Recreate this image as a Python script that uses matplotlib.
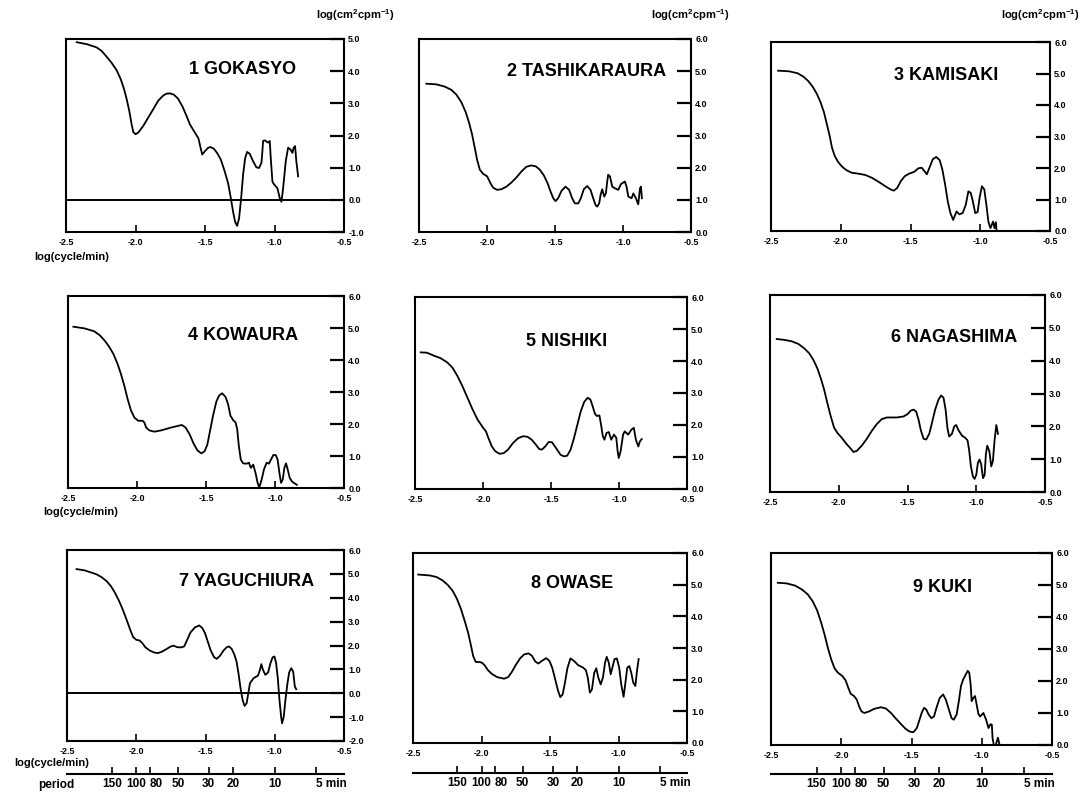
import numpy as np
import matplotlib
matplotlib.use('Agg')
import matplotlib.pyplot as plt

plt.rcParams['font.family'] = ['Liberation Sans', 'DejaVu Sans']
plt.rcParams['font.weight'] = 'bold'
plt.rcParams['mathtext.fontset'] = 'custom'
plt.rcParams['mathtext.rm'] = 'Liberation Sans:bold'
plt.rcParams['mathtext.bf'] = 'Liberation Sans:bold'
plt.rcParams['mathtext.it'] = 'Liberation Sans:bold'
plt.rcParams['mathtext.default'] = 'rm'

# ---------------- data ----------------
stations = ['1 GOKASYO', '2 TASHIKARAURA', '3 KAMISAKI', '4 KOWAURA', '5 NISHIKI',
            '6 NAGASHIMA', '7 YAGUCHIURA', '8 OWASE', '9 KUKI']
ylims = [(-1, 5), (0, 6), (0, 6), (0, 6), (0, 6), (0, 6), (-2, 6), (0, 6), (0, 6)]
xticks = [-2.5, -2.0, -1.5, -1.0, -0.5]
periods = [150, 100, 80, 50, 30, 20, 10, 5]
period_labels = ['150', '100', '80', '50', '30', '20', '10', '5 min']

x1 = [-2.423, -2.351, -2.280, -2.244, -2.208, -2.172, -2.136, -2.107, -2.083, -2.064, -2.045,
      -2.028, -2.016, -2.0, -1.980, -1.944, -1.908, -1.872, -1.837, -1.801, -1.777, -1.753,
      -1.724, -1.693, -1.662, -1.633, -1.609, -1.573, -1.547, -1.532, -1.520, -1.501, -1.477,
      -1.460, -1.437, -1.413, -1.386, -1.358, -1.334, -1.314, -1.298, -1.283, -1.269, -1.255,
      -1.240, -1.226, -1.211, -1.197, -1.178, -1.154, -1.130, -1.111, -1.094, -1.087, -1.082,
      -1.070, -1.046, -1.034, -1.027, -1.015, -1.005, -0.979, -0.962, -0.950, -0.938, -0.919,
      -0.902, -0.886, -0.871, -0.862, -0.852, -0.843, -0.830]
y1 = [4.90, 4.84, 4.74, 4.63, 4.45, 4.26, 4.03, 3.76, 3.45, 3.14, 2.77,
      2.35, 2.11, 2.04, 2.09, 2.30, 2.56, 2.82, 3.08, 3.24, 3.30, 3.31,
      3.27, 3.14, 2.90, 2.61, 2.35, 2.09, 1.91, 1.62, 1.41, 1.51, 1.62,
      1.64, 1.59, 1.46, 1.25, 0.88, 0.52, 0.05, -0.37, -0.69, -0.81, -0.58,
      0.05, 0.78, 1.30, 1.49, 1.43, 1.20, 1.01, 0.99, 1.15, 1.51, 1.83,
      1.85, 1.78, 1.83, 1.30, 0.57, 0.49, 0.36, 0.05, -0.06, 0.36, 1.20,
      1.62, 1.57, 1.46, 1.62, 1.67, 1.20, 0.73]

x2 = [-2.446, -2.372, -2.311, -2.262, -2.225, -2.188, -2.156, -2.132, -2.110, -2.090, -2.073,
      -2.053, -2.029, -1.999, -1.975, -1.955, -1.926, -1.894, -1.857, -1.820, -1.783, -1.747,
      -1.710, -1.673, -1.641, -1.612, -1.582, -1.555, -1.533, -1.513, -1.496, -1.477, -1.452,
      -1.423, -1.396, -1.374, -1.354, -1.329, -1.310, -1.288, -1.263, -1.239, -1.219, -1.202,
      -1.190, -1.175, -1.165, -1.153, -1.138, -1.126, -1.116, -1.109, -1.096, -1.079, -1.060,
      -1.035, -1.015, -0.986, -0.974, -0.961, -0.937, -0.924, -0.905, -0.888, -0.875, -0.868,
      -0.861]
y2 = [4.61, 4.59, 4.52, 4.42, 4.27, 4.03, 3.72, 3.40, 3.04, 2.62, 2.25,
      1.94, 1.81, 1.73, 1.52, 1.38, 1.31, 1.33, 1.41, 1.54, 1.70, 1.88,
      2.03, 2.07, 2.04, 1.94, 1.76, 1.52, 1.26, 1.05, 0.96, 1.05, 1.28,
      1.41, 1.31, 1.05, 0.89, 0.89, 1.05, 1.33, 1.43, 1.31, 1.05, 0.84,
      0.79, 0.89, 1.15, 1.33, 1.10, 1.20, 1.57, 1.78, 1.73, 1.41, 1.36,
      1.31, 1.49, 1.57, 1.41, 1.10, 1.05, 1.20, 1.05, 0.86, 1.36, 1.41,
      1.05]

x3 = [-2.449, -2.371, -2.311, -2.267, -2.233, -2.201, -2.172, -2.146, -2.121, -2.100, -2.080,
      -2.063, -2.044, -2.019, -1.990, -1.959, -1.922, -1.874, -1.825, -1.777, -1.728, -1.680,
      -1.643, -1.619, -1.595, -1.570, -1.541, -1.510, -1.473, -1.444, -1.420, -1.400, -1.383,
      -1.364, -1.340, -1.316, -1.291, -1.272, -1.252, -1.233, -1.214, -1.194, -1.180, -1.170,
      -1.150, -1.126, -1.104, -1.085, -1.068, -1.053, -1.036, -1.019, -1.005, -0.988, -0.971,
      -0.956, -0.942, -0.927, -0.908, -0.898, -0.888, -0.883]
y3 = [5.09, 5.07, 5.01, 4.90, 4.76, 4.58, 4.36, 4.10, 3.78, 3.40, 3.03,
      2.65, 2.39, 2.19, 2.04, 1.93, 1.85, 1.82, 1.78, 1.69, 1.56, 1.42,
      1.32, 1.28, 1.37, 1.58, 1.74, 1.82, 1.88, 1.99, 2.01, 1.90, 1.80,
      2.01, 2.28, 2.35, 2.25, 1.96, 1.48, 0.94, 0.57, 0.35, 0.51, 0.62,
      0.53, 0.57, 0.83, 1.26, 1.21, 0.94, 0.57, 0.60, 1.05, 1.42, 1.32,
      0.83, 0.30, 0.09, 0.30, 0.09, 0.28, 0.03]

x4 = [-2.461, -2.383, -2.311, -2.269, -2.233, -2.201, -2.170, -2.141, -2.117, -2.092, -2.068,
      -2.044, -2.019, -1.990, -1.959, -1.947, -1.934, -1.910, -1.874, -1.825, -1.752, -1.704,
      -1.675, -1.648, -1.619, -1.590, -1.563, -1.534, -1.510, -1.490, -1.471, -1.449, -1.425,
      -1.405, -1.383, -1.359, -1.340, -1.323, -1.303, -1.286, -1.274, -1.262, -1.248, -1.231,
      -1.206, -1.189, -1.175, -1.158, -1.141, -1.126, -1.114, -1.097, -1.080, -1.061, -1.044,
      -1.029, -1.012, -0.995, -0.981, -0.968, -0.956, -0.944, -0.932, -0.920, -0.908, -0.893,
      -0.874, -0.842]
y4 = [5.04, 4.99, 4.90, 4.77, 4.60, 4.41, 4.18, 3.88, 3.57, 3.20, 2.78,
      2.43, 2.20, 2.10, 2.10, 2.05, 1.89, 1.80, 1.76, 1.80, 1.89, 1.94,
      1.97, 1.89, 1.68, 1.39, 1.18, 1.08, 1.15, 1.36, 1.78, 2.26, 2.70,
      2.89, 2.96, 2.85, 2.62, 2.26, 2.12, 2.05, 1.84, 1.31, 0.89, 0.77,
      0.76, 0.79, 0.63, 0.73, 0.47, 0.16, 0.02, 0.26, 0.58, 0.79, 0.76,
      0.89, 1.03, 1.03, 0.89, 0.47, 0.16, 0.26, 0.63, 0.77, 0.58, 0.31,
      0.19, 0.10]

x5 = [-2.458, -2.413, -2.363, -2.313, -2.264, -2.226, -2.189, -2.152, -2.114, -2.077, -2.040,
      -2.002, -1.978, -1.960, -1.935, -1.910, -1.878, -1.848, -1.816, -1.779, -1.741, -1.704,
      -1.672, -1.642, -1.612, -1.587, -1.567, -1.542, -1.517, -1.493, -1.463, -1.430, -1.405,
      -1.381, -1.356, -1.331, -1.306, -1.281, -1.256, -1.231, -1.211, -1.194, -1.177, -1.162,
      -1.144, -1.132, -1.119, -1.107, -1.092, -1.075, -1.057, -1.037, -1.020, -1.010, -1.002,
      -0.988, -0.970, -0.958, -0.933, -0.908, -0.891, -0.876, -0.858, -0.846, -0.833]
y5 = [4.27, 4.26, 4.17, 4.09, 3.96, 3.80, 3.54, 3.22, 2.85, 2.49, 2.17,
      1.93, 1.80, 1.59, 1.33, 1.18, 1.10, 1.12, 1.23, 1.44, 1.59, 1.65,
      1.63, 1.54, 1.39, 1.25, 1.23, 1.33, 1.47, 1.46, 1.28, 1.07, 1.02,
      1.04, 1.23, 1.59, 2.01, 2.43, 2.72, 2.85, 2.80, 2.59, 2.35, 2.28,
      2.30, 2.01, 1.65, 1.54, 1.75, 1.78, 1.54, 1.70, 1.60, 1.18, 0.97,
      1.18, 1.70, 1.80, 1.70, 1.86, 1.91, 1.54, 1.33, 1.49, 1.56]

x6 = [-2.451, -2.391, -2.342, -2.294, -2.252, -2.216, -2.184, -2.155, -2.129, -2.107, -2.083,
      -2.058, -2.034, -2.010, -1.978, -1.947, -1.917, -1.893, -1.869, -1.833, -1.796, -1.760,
      -1.723, -1.687, -1.650, -1.578, -1.529, -1.500, -1.476, -1.456, -1.437, -1.420, -1.403,
      -1.383, -1.364, -1.342, -1.323, -1.299, -1.274, -1.255, -1.238, -1.223, -1.209, -1.197,
      -1.177, -1.160, -1.146, -1.129, -1.104, -1.080, -1.063, -1.051, -1.039, -1.024, -1.012,
      -1.000, -0.988, -0.976, -0.964, -0.951, -0.939, -0.930, -0.920, -0.905, -0.891, -0.879,
      -0.867, -0.854, -0.842]
y6 = [4.66, 4.63, 4.59, 4.51, 4.38, 4.23, 4.02, 3.76, 3.44, 3.13, 2.71,
      2.30, 1.96, 1.80, 1.65, 1.48, 1.34, 1.22, 1.25, 1.41, 1.62, 1.86,
      2.07, 2.22, 2.27, 2.27, 2.30, 2.37, 2.48, 2.51, 2.45, 2.21, 1.88,
      1.62, 1.60, 1.77, 2.09, 2.51, 2.82, 2.94, 2.87, 2.51, 1.93, 1.69,
      1.77, 2.00, 2.04, 1.88, 1.72, 1.65, 1.57, 1.25, 0.78, 0.47, 0.40,
      0.52, 0.89, 0.99, 0.84, 0.42, 0.52, 1.15, 1.41, 1.25, 0.78, 0.94,
      1.57, 2.04, 1.77]

x7 = [-2.431, -2.375, -2.327, -2.286, -2.247, -2.213, -2.182, -2.153, -2.126, -2.102, -2.080,
      -2.061, -2.041, -2.022, -2.000, -1.976, -1.956, -1.935, -1.903, -1.872, -1.847, -1.818,
      -1.782, -1.751, -1.729, -1.705, -1.678, -1.654, -1.632, -1.608, -1.576, -1.545, -1.523,
      -1.504, -1.484, -1.462, -1.438, -1.419, -1.395, -1.370, -1.346, -1.329, -1.310, -1.291,
      -1.276, -1.262, -1.247, -1.232, -1.218, -1.203, -1.191, -1.179, -1.153, -1.121, -1.107,
      -1.097, -1.085, -1.068, -1.048, -1.031, -1.015, -1.002, -0.990, -0.978, -0.966, -0.954,
      -0.947, -0.935, -0.923, -0.908, -0.896, -0.881, -0.867, -0.855, -0.845]
y7 = [5.20, 5.15, 5.06, 4.98, 4.85, 4.69, 4.48, 4.20, 3.89, 3.57, 3.24,
      2.94, 2.62, 2.35, 2.24, 2.21, 2.10, 1.93, 1.79, 1.71, 1.68, 1.73,
      1.85, 1.96, 1.99, 1.93, 1.92, 1.96, 2.24, 2.55, 2.76, 2.84, 2.73,
      2.52, 2.17, 1.79, 1.51, 1.44, 1.57, 1.79, 1.93, 1.96, 1.85, 1.61,
      1.33, 0.84, 0.21, -0.28, -0.53, -0.42, 0.0, 0.42, 0.63, 0.74, 0.98,
      1.22, 0.98, 0.77, 0.87, 1.26, 1.51, 1.54, 1.26, 0.63, -0.28, -0.98,
      -1.26, -0.98, -0.28, 0.42, 0.87, 1.05, 0.91, 0.28, 0.17]

x8 = [-2.462, -2.376, -2.327, -2.283, -2.246, -2.211, -2.179, -2.150, -2.123, -2.098, -2.079,
      -2.061, -2.042, -2.020, -1.998, -1.978, -1.953, -1.921, -1.885, -1.835, -1.806, -1.779,
      -1.749, -1.717, -1.688, -1.656, -1.631, -1.607, -1.585, -1.560, -1.528, -1.504, -1.484,
      -1.462, -1.442, -1.425, -1.408, -1.391, -1.373, -1.351, -1.324, -1.295, -1.258, -1.238,
      -1.224, -1.209, -1.194, -1.177, -1.162, -1.147, -1.130, -1.113, -1.098, -1.086, -1.071,
      -1.057, -1.042, -1.029, -1.012, -0.995, -0.980, -0.963, -0.951, -0.936, -0.921, -0.907,
      -0.892, -0.877, -0.865, -0.853]
y8 = [5.32, 5.29, 5.24, 5.13, 4.99, 4.81, 4.55, 4.23, 3.86, 3.49, 3.12,
      2.75, 2.56, 2.56, 2.54, 2.46, 2.30, 2.17, 2.08, 2.03, 2.08, 2.24,
      2.47, 2.68, 2.80, 2.83, 2.75, 2.57, 2.51, 2.59, 2.68, 2.59, 2.38,
      2.01, 1.66, 1.45, 1.53, 1.90, 2.36, 2.67, 2.59, 2.46, 2.38, 2.30,
      2.06, 1.59, 1.69, 2.22, 2.36, 2.06, 1.85, 2.08, 2.54, 2.72, 2.54,
      2.17, 2.43, 2.65, 2.67, 2.38, 1.85, 1.46, 1.85, 2.38, 2.43, 2.22,
      1.90, 1.80, 2.28, 2.65]

x9 = [-2.452, -2.388, -2.328, -2.280, -2.239, -2.203, -2.172, -2.144, -2.120, -2.096, -2.072,
      -2.048, -2.024, -1.993, -1.969, -1.950, -1.933, -1.909, -1.890, -1.873, -1.856, -1.837,
      -1.801, -1.766, -1.718, -1.682, -1.646, -1.610, -1.574, -1.543, -1.514, -1.486, -1.462,
      -1.443, -1.426, -1.411, -1.395, -1.378, -1.359, -1.340, -1.321, -1.299, -1.275, -1.256,
      -1.234, -1.215, -1.199, -1.179, -1.163, -1.148, -1.132, -1.115, -1.100, -1.089, -1.079,
      -1.072, -1.060, -1.048, -1.036, -1.024, -1.012, -0.988, -0.969, -0.952, -0.938, -0.928,
      -0.923, -0.914, -0.900, -0.885, -0.873]
y9 = [5.07, 5.05, 4.98, 4.86, 4.71, 4.49, 4.21, 3.84, 3.47, 3.05, 2.68,
      2.40, 2.26, 2.16, 2.02, 1.79, 1.60, 1.53, 1.42, 1.21, 1.05, 1.00,
      1.05, 1.13, 1.18, 1.14, 1.00, 0.82, 0.65, 0.51, 0.42, 0.40, 0.53,
      0.79, 1.02, 1.16, 1.11, 0.95, 0.84, 0.89, 1.18, 1.47, 1.58, 1.42,
      1.11, 0.84, 0.79, 0.95, 1.37, 1.84, 2.05, 2.19, 2.32, 2.26, 1.89,
      1.37, 1.47, 1.53, 1.26, 0.97, 0.89, 1.00, 0.79, 0.53, 0.65, 0.63,
      0.21, 0.00, 0.00, 0.23, 0.00]

xs = [x1, x2, x3, x4, x5, x6, x7, x8, x9]
ys = [y1, y2, y3, y4, y5, y6, y7, y8, y9]

# ---------------- layout (pixels) ----------------
W, H = 1089, 797
fig = plt.figure(figsize=(W / 100, H / 100), dpi=100)

boxes = [(66, 39, 344, 232), (419, 39, 691, 232), (771, 42, 1050, 231),
         (68, 296, 344, 488), (415, 297, 687, 489), (770, 295, 1045, 492),
         (67, 550, 344, 741), (413, 553, 687, 743), (771, 553, 1052, 745)]
title_pos = [(189, 70), (507, 72), (894, 76), (188, 335), (526, 341), (891, 338),
             (179, 582), (531, 583), (913, 588)]
period_line_y = [774, 773, 774]

axes = []
for i, (l, t, r, b) in enumerate(boxes):
    ax = fig.add_axes([l / W, 1 - b / H, (r - l) / W, (b - t) / H])
    axes.append(ax)
    lo, hi = ylims[i]
    ax.set_xlim(-2.5, -0.5)
    ax.set_ylim(lo, hi)
    ax.plot(xs[i], ys[i], color='black', lw=1.3, solid_joinstyle='round')
    if lo < 0:
        ax.axhline(0, color='black', lw=1.4)
    ax.yaxis.tick_right()
    yt = list(range(lo, hi + 1))
    ax.set_yticks(yt, labels=[f'{v:.1f}' for v in yt])
    ax.set_xticks(xticks, labels=[f'{v:.1f}' for v in xticks])
    ax.tick_params(axis='y', direction='in', length=10, width=1.6, labelsize=6.5, pad=3)
    ax.tick_params(axis='x', direction='in', length=5, width=1.2, labelsize=6.5, pad=4)
    for s in ax.spines.values():
        s.set_linewidth(1.5)
    fig.text(title_pos[i][0] / W, 1 - title_pos[i][1] / H, stations[i],
             ha='left', va='center', fontsize=13, fontweight='bold')

# y-axis unit labels on top row
for cx in [355, 690, 1040]:
    fig.text(cx / W, 1 - 15 / H, r'log(cm$^{2}$cpm$^{-1}$)', ha='center', va='center',
             fontsize=8, fontweight='bold')

# x-axis labels on left column
for cx, cy in [(72, 257), (81, 512), (52, 763)]:
    fig.text(cx / W, 1 - cy / H, 'log(cycle/min)', ha='center', va='center',
             fontsize=8, fontweight='bold')

# period axes on bottom row
pticks = np.log10(1.0 / np.array(periods, dtype=float))
for j, ax in enumerate(axes[6:]):
    l, t, r, b = boxes[6 + j]
    loc = -(period_line_y[j] - b) / (b - t)
    sec = ax.secondary_xaxis(loc)
    sec.set_xticks(pticks, labels=period_labels)
    sec.tick_params(direction='in', length=5, width=1.2, labelsize=8.5, pad=3)
    sec.spines['bottom'].set_linewidth(1.5)
    lbls = sec.get_xticklabels()
    lbls[2].set_ha('left')
    lbls[-1].set_ha('left')

fig.text(38 / W, 1 - 785 / H, 'period', ha='left', va='center', fontsize=8.5, fontweight='bold')

fig.savefig('out.png', dpi=100)
